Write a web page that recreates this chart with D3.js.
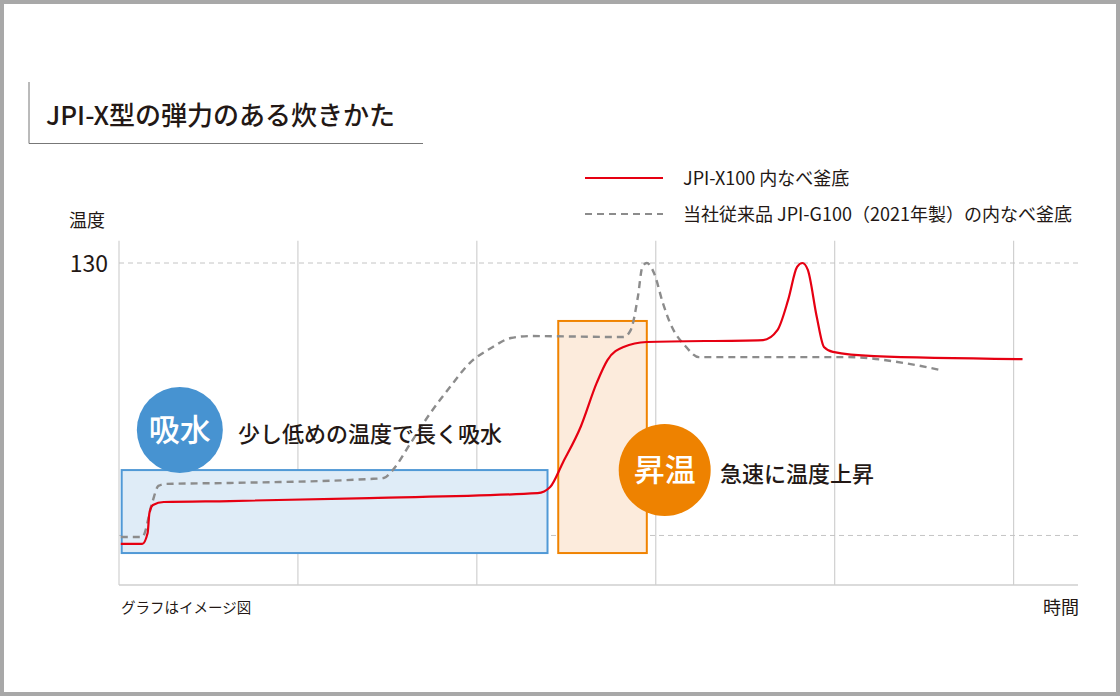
<!DOCTYPE html>
<html lang="ja">
<head>
<meta charset="utf-8">
<script src="https://cdn.jsdelivr.net/npm/d3@7"></script>
<style>
  body { margin: 0; background: #fff; }
  text { font-family: "Noto Sans CJK JP", "Noto Sans", sans-serif; fill: #231815; }
</style>
</head>
<body>
<div id="chart"></div>
<script>
// time in arbitrary units (one grid step = 10), temperature in deg C
const timeTicks = [0, 10, 20, 30, 40, 50];
const tempTicks = [20, 130];
const tempLabels = ["130"];

const newTime = [0.1, 1.3, 1.6, 1.7, 1.9, 2.5, 6.2, 14.0, 23.4, 24.1, 24.8, 25.8, 26.7, 27.3, 28.2, 29.5, 36.0, 36.8, 37.4, 37.9, 38.2, 38.5, 39.0, 39.4, 39.9, 42.2, 50.5];
const newTemp = [16.6, 16.6, 21.0, 29.1, 32.3, 33.5, 33.9, 35.1, 37.1, 39.6, 49.3, 63.8, 81.6, 90.8, 96.1, 98.1, 98.9, 102.9, 115.1, 128.4, 130.0, 127.2, 108.2, 96.1, 94.1, 92.4, 91.2];

const oldTime = [0.1, 1.3, 1.85, 2.2, 2.6, 6.2, 14.0, 14.8, 15.3, 16.3, 17.4, 18.5, 19.6, 20.8, 21.9, 23.0, 28.2, 28.6, 29.0, 29.25, 29.5, 29.9, 30.4, 30.8, 31.7, 32.4, 40.7, 43.9, 45.9];
const oldTemp = [19.4, 19.4, 33.1, 40.0, 40.8, 41.2, 42.8, 43.2, 46.4, 57.3, 69.4, 79.9, 89.6, 95.7, 99.7, 100.5, 100.1, 102.9, 116.3, 128.4, 130.0, 126.0, 113.8, 105.8, 96.1, 92.0, 92.0, 89.6, 86.8];

const seriesNames = ["JPI-X100 内なべ釜底", "当社従来品 JPI-G100（2021年製）の内なべ釜底"];

// phases: [start, end, low, high]
const phaseNames = ["吸水", "昇温"];
const phaseNotes = ["少し低めの温度で長く吸水", "急速に温度上昇"];
const phaseRanges = [[0.15, 23.95, 12.9, 46.4], [24.55, 29.5, 12.9, 106.6]];

const width = 1120, height = 696;

const x = d3.scaleLinear().domain([0, 53.6]).range([119, 1078]);
const y = d3.scaleLinear().domain([0, 130]).range([585, 263]);

const svg = d3.select("#chart").append("svg")
  .attr("width", width)
  .attr("height", height);

// frame
svg.append("rect")
  .attr("x", 2).attr("y", 2)
  .attr("width", width - 4).attr("height", height - 4)
  .attr("fill", "#fff")
  .attr("stroke", "#a8a8a8")
  .attr("stroke-width", 4);

// title
svg.append("path")
  .attr("d", "M29,82V143.5H423")
  .attr("fill", "none")
  .attr("stroke", "#777")
  .attr("stroke-width", 1);
svg.append("text")
  .attr("x", 46).attr("y", 125)
  .attr("font-size", "26px")
  .attr("font-weight", 500)
  .text("JPI-X型の弾力のある炊きかた");

// grid
svg.append("g").selectAll("line")
  .data(timeTicks)
  .join("line")
  .attr("x1", d => x(d)).attr("x2", d => x(d))
  .attr("y1", y(139)).attr("y2", y(0))
  .attr("stroke", "#d0d0d0")
  .attr("stroke-width", 1.2);

svg.append("g").selectAll("line")
  .data(tempTicks)
  .join("line")
  .attr("x1", x(0)).attr("x2", x(53.6))
  .attr("y1", d => y(d)).attr("y2", d => y(d))
  .attr("stroke", "#c4c4c4")
  .attr("stroke-width", 1)
  .attr("stroke-dasharray", "5,4");

svg.append("line")
  .attr("x1", x(0)).attr("x2", x(53.6))
  .attr("y1", y(0)).attr("y2", y(0))
  .attr("stroke", "#cfcfcf")
  .attr("stroke-width", 1.5);

svg.append("text")
  .attr("x", 69).attr("y", 227)
  .attr("font-size", "18px")
  .text("温度");
svg.append("text")
  .attr("x", 108).attr("y", y(130) + 9)
  .attr("text-anchor", "end")
  .attr("font-size", "23px")
  .text(tempLabels[0]);

svg.append("text")
  .attr("x", 121).attr("y", 613)
  .attr("font-size", "14.5px")
  .text("グラフはイメージ図");
svg.append("text")
  .attr("x", 1079).attr("y", 614)
  .attr("text-anchor", "end")
  .attr("font-size", "18px")
  .text("時間");

// phase boxes
const boxFill = ["#dfecf7", "#fcebdc"];
const boxStroke = ["#5099d6", "#f08300"];
const dotFill = ["#4793d1", "#ee8200"];

svg.append("g").selectAll("rect")
  .data(phaseRanges)
  .join("rect")
  .attr("x", d => x(d[0]))
  .attr("y", d => y(d[3]))
  .attr("width", d => x(d[1]) - x(d[0]))
  .attr("height", d => y(d[2]) - y(d[3]))
  .attr("fill", (d, i) => boxFill[i])
  .attr("stroke", (d, i) => boxStroke[i])
  .attr("stroke-width", 2);

// lines
const line = d3.line()
  .x(d => x(d[0]))
  .y(d => y(d[1]))
  .curve(d3.curveMonotoneX);

svg.append("path")
  .datum(d3.zip(oldTime, oldTemp))
  .attr("d", line)
  .attr("fill", "none")
  .attr("stroke", "#8c8c8c")
  .attr("stroke-width", 2.4)
  .attr("stroke-dasharray", "7,5");

svg.append("path")
  .datum(d3.zip(newTime, newTemp))
  .attr("d", line)
  .attr("fill", "none")
  .attr("stroke", "#e60012")
  .attr("stroke-width", 2.2);

// phase badges
const badgeAt = [[3.4, 62.6], [30.5, 46.4]];
const badgeR = [43, 46];
const noteX = [238, 720];
const noteY = [442, 482];

phaseNames.forEach((name, i) => {
  const g = svg.append("g")
    .attr("transform", "translate(" + x(badgeAt[i][0]) + "," + y(badgeAt[i][1]) + ")");
  g.append("circle")
    .attr("r", badgeR[i])
    .attr("fill", dotFill[i]);
  g.append("text")
    .attr("text-anchor", "middle")
    .attr("y", 11)
    .attr("font-size", "31px")
    .attr("font-weight", 500)
    .style("fill", "#fff")
    .text(name);
  svg.append("text")
    .attr("x", noteX[i]).attr("y", noteY[i])
    .attr("font-size", "22px")
    .attr("font-weight", 500)
    .text(phaseNotes[i]);
});

// legend
const legend = svg.append("g");
seriesNames.forEach((name, i) => {
  const ly = 178 + i * 36;
  legend.append("line")
    .attr("x1", 585).attr("x2", 663)
    .attr("y1", ly).attr("y2", ly)
    .attr("stroke", i === 0 ? "#e60012" : "#8c8c8c")
    .attr("stroke-width", 2)
    .attr("stroke-dasharray", i === 0 ? null : "7,5");
  legend.append("text")
    .attr("x", 683).attr("y", ly + 7)
    .attr("font-size", "18px")
    .text(name);
});
</script>
</body>
</html>
